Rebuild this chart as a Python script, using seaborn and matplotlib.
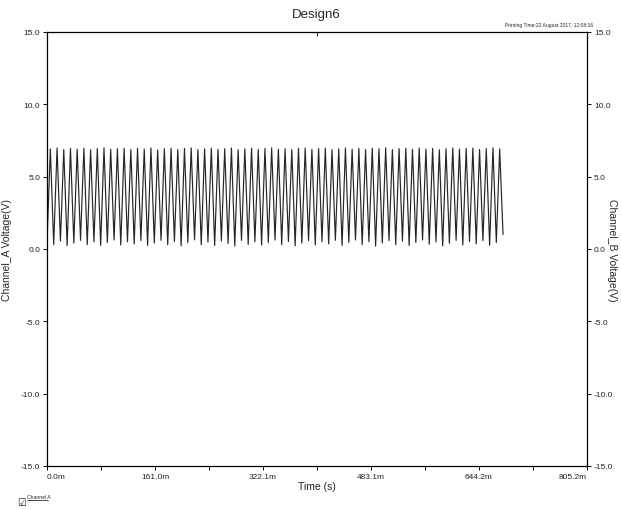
import numpy as np
import pandas as pd
import matplotlib
matplotlib.use("Agg")
import matplotlib.pyplot as plt
import seaborn as sns

# ---- data ----
sample_step_ms = 5.0  # alternating trough / peak samples
ch_a_volts = [
    0.45, 6.92, 0.30, 6.98, 0.55, 6.88, 0.25, 6.95, 0.40, 6.90, 0.60, 6.97, 0.30, 6.86, 0.50, 6.94, 0.25, 6.99, 0.45, 6.89,
    0.62, 6.93, 0.28, 6.97, 0.50, 6.87, 0.35, 6.95, 0.58, 6.91, 0.25, 6.98, 0.42, 6.85, 0.60, 6.94, 0.30, 6.96, 0.52, 6.88,
    0.22, 6.95, 0.45, 6.99, 0.63, 6.87, 0.30, 6.93, 0.48, 6.97, 0.25, 6.89, 0.55, 6.94, 0.38, 6.98, 0.20, 6.86, 0.60, 6.92,
    0.32, 6.97, 0.50, 6.88, 0.27, 6.95, 0.45, 6.99, 0.62, 6.90, 0.30, 6.93, 0.52, 6.87, 0.22, 6.96, 0.40, 6.98, 0.58, 6.89,
    0.28, 6.94, 0.50, 6.97, 0.35, 6.86, 0.60, 6.92, 0.25, 6.98, 0.45, 6.90, 0.62, 6.95, 0.30, 6.88, 0.50, 6.97, 0.20, 6.93,
    0.42, 6.99, 0.58, 6.87, 0.30, 6.94, 0.55, 6.96, 0.25, 6.89, 0.45, 6.98, 0.62, 6.91, 0.33, 6.95,
    0.50, 6.86, 0.22, 6.93, 0.40, 6.98, 0.60, 6.90, 0.28, 6.95, 0.52, 6.97, 0.35, 6.88, 0.58, 6.94, 0.25, 6.99, 0.45, 6.92,
    1.00,
]
x_ticks_ms = [0.0, 80.52, 161.0, 241.56, 322.1, 402.6, 483.1, 563.64, 644.2, 724.68, 805.2]
x_tick_labels = ["0.0m", "", "161.0m", "", "322.1m", "", "483.1m", "", "644.2m", "", "805.2m"]
y_ticks = [-15.0, -10.0, -5.0, 0.0, 5.0, 10.0, 15.0]
y_tick_labels = ["-15.0", "-10.0", "-5.0", "0.0", "5.0", "10.0", "15.0"]

df = pd.DataFrame({"t": np.arange(len(ch_a_volts)) * sample_step_ms, "v": ch_a_volts})

sns.set_style("white")
plt.rcParams["font.family"] = ["Liberation Sans", "DejaVu Sans"]

fig = plt.figure(figsize=(6.21, 5.10), dpi=100)
ax = fig.add_axes([47/621, 1-467/510, (587-47)/621, (467-33)/510])

sns.lineplot(data=df, x="t", y="v", ax=ax, color="#262626", linewidth=0.85,
             estimator=None, sort=False)

ax.set_xlim(0, 805.2)
ax.set_ylim(-15, 15)
for s in ax.spines.values():
    s.set_color("black")
    s.set_linewidth(0.9)

ax.set_xticks(x_ticks_ms)
ax.set_xticklabels(x_tick_labels, fontsize=6)
lbls = ax.get_xticklabels()
lbls[0].set_ha("left")
lbls[-1].set_ha("right")
ax.set_yticks(y_ticks)
ax.set_yticklabels(y_tick_labels, fontsize=6)
ax.tick_params(axis="both", direction="out", length=3, width=0.7, color="black", pad=2,
               labelcolor="#222222", left=True, bottom=True)
ax.tick_params(axis="y", labelright=True, right=True)

ax.set_xlabel("Time (s)", fontsize=7.5, labelpad=1)
ax.set_ylabel("Channel_A Voltage(V)", fontsize=7.5, labelpad=6)

axt = ax.secondary_xaxis("top")
axt.set_xticks([402.6])
axt.set_xticklabels([""])
axt.tick_params(direction="in", length=3, width=0.7)
axt.spines["top"].set_visible(False)

ax.grid(False)

fig.text(316/621, 1-15/510, "Design6", ha="center", va="center", fontsize=9.5)
fig.text(593/621, 1-26/510, "Printing Time:22 August 2017, 12:08:16", ha="right", va="center", fontsize=3.6)
fig.text(612/621, 1-250/510, "Channel_B Voltage(V)", ha="center", va="center", rotation=-90, fontsize=7.5)

fig.text(17/621, 1-503/510, "\u2611", ha="left", va="center", fontsize=7, family=["DejaVu Sans"])
fig.text(27/621, 1-498/510, "Channel A", ha="left", va="center", fontsize=3.6)
fig.add_artist(plt.Line2D([27/621, 48/621], [1-501/510, 1-501/510], color="black", linewidth=0.5))

fig.savefig("out.png", dpi=100)
